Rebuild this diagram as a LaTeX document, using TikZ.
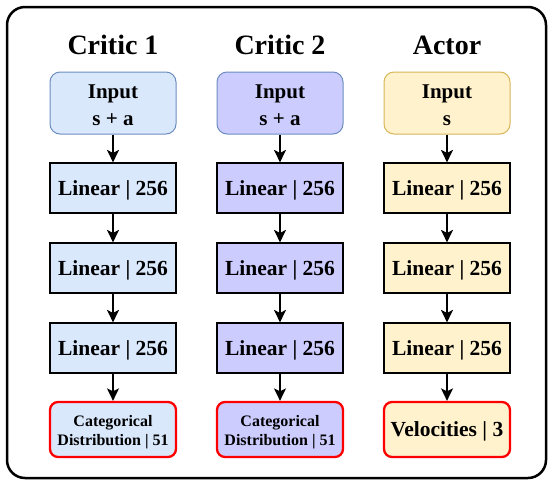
\documentclass[tikz,border=0pt]{standalone}
\usepackage{fontspec}
\setmainfont{Liberation Serif}
\usetikzlibrary{arrows.meta}
\definecolor{bluefill}{HTML}{DAE8FC}
\definecolor{bluedraw}{HTML}{6C8EBF}
\definecolor{purplefill}{HTML}{CCCCFF}
\definecolor{yellowfill}{HTML}{FFF2CC}
\definecolor{yellowdraw}{HTML}{D6B656}
\definecolor{outred}{HTML}{FF0000}
\newcommand\boxtext[2]{\raisebox{#1}[0pt][0pt]{\begin{tabular}{@{}c@{}}#2\end{tabular}}}
\tikzset{
  title/.style={font=\fontsize{28}{32}\selectfont\bfseries, anchor=base},
  inbox/.style={rounded corners=10pt, minimum width=126pt, minimum height=62pt, line width=1pt, font=\fontsize{21}{27}\selectfont\bfseries, inner sep=0pt},
  linbox/.style={draw=black, minimum width=126pt, minimum height=50pt, line width=1.2pt, font=\fontsize{21.5}{26}\selectfont\bfseries, inner sep=0pt, text height=14pt, text depth=0pt},
  outbox/.style={draw=outred, rounded corners=8pt, minimum width=126pt, minimum height=55pt, line width=2.3pt, inner sep=0pt},
  twoline/.style={font=\fontsize{16}{19}\selectfont\bfseries},
  oneline/.style={font=\fontsize{21.5}{26}\selectfont\bfseries, text height=14pt, text depth=-1pt},
  arr/.style={-{Stealth[length=12.5pt,width=12pt,inset=3pt]}, line width=1.4pt, black}
}
\begin{document}
\begin{tikzpicture}[x=1pt,y=-1pt]
\useasboundingbox (0,0) rectangle (549,480);
\draw[line width=2.5pt, rounded corners=18pt] (7,7) rectangle (546,478);
% titles
\node[title] (t1) at (113,54) {Critic 1};
\node[title] (t2) at (280,54) {Critic 2};
\node[title] (t3) at (447,54) {Actor};
% critic 1
\node[inbox, draw=bluedraw, fill=bluefill] (a0) at (113,103) {\boxtext{-8.4pt}{Input\\s + a}};
\node[linbox, fill=bluefill] (a1) at (113,188) {Linear | 256};
\node[linbox, fill=bluefill] (a2) at (113,268) {Linear | 256};
\node[linbox, fill=bluefill] (a3) at (113,348) {Linear | 256};
\node[outbox, fill=bluefill, twoline] (a4) at (113,429.5) {\boxtext{-6.8pt}{Categorical\\Distribution | 51}};
% critic 2
\node[inbox, draw=bluedraw, fill=purplefill] (b0) at (280,103) {\boxtext{-8.4pt}{Input\\s + a}};
\node[linbox, fill=purplefill] (b1) at (280,188) {Linear | 256};
\node[linbox, fill=purplefill] (b2) at (280,268) {Linear | 256};
\node[linbox, fill=purplefill] (b3) at (280,348) {Linear | 256};
\node[outbox, fill=purplefill, twoline] (b4) at (280,429.5) {\boxtext{-6.8pt}{Categorical\\Distribution | 51}};
% actor
\node[inbox, draw=yellowdraw, fill=yellowfill] (c0) at (447,103) {\boxtext{-8.4pt}{Input\\s}};
\node[linbox, fill=yellowfill] (c1) at (447,188) {Linear | 256};
\node[linbox, fill=yellowfill] (c2) at (447,268) {Linear | 256};
\node[linbox, fill=yellowfill] (c3) at (447,348) {Linear | 256};
\node[outbox, fill=yellowfill, oneline] (c4) at (447,429.5) {Velocities | 3};
% arrows
\foreach \c in {a,b,c}{
  \draw[arr] (\c0.south) -- (\c1.north);
  \draw[arr] (\c1.south) -- (\c2.north);
  \draw[arr] (\c2.south) -- (\c3.north);
  \draw[arr] (\c3.south) -- (\c4.north);
}
\end{tikzpicture}
\end{document}
